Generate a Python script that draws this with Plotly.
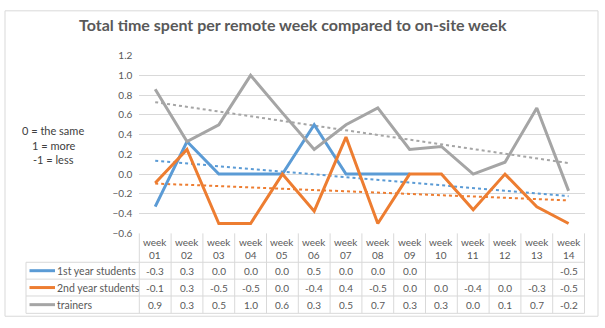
import numpy as np
import plotly.graph_objects as go
from decimal import Decimal, ROUND_HALF_UP

weeks = ["01", "02", "03", "04", "05", "06", "07", "08", "09", "10", "11", "12", "13", "14"]
first_year = [-0.33, 0.33, 0.0, 0.0, 0.0, 0.5, 0.0, 0.0, 0.0, None, None, None, None, -0.5]
second_year = [-0.09, 0.25, -0.5, -0.5, 0.0, -0.375, 0.375, -0.5, 0.0, 0.0, -0.36, 0.0, -0.33, -0.5]
trainers = [0.86, 0.33, 0.5, 1.0, 0.62, 0.25, 0.5, 0.67, 0.25, 0.28, 0.0, 0.12, 0.67, -0.17]

names = ["1st year students", "2nd year students", "trainers"]
series = [first_year, second_year, trainers]
colors = ["#5B9BD5", "#ED7D31", "#A5A5A5"]

W, H = 605, 328
PL, PR, PT, PB = 139.3, 584.5, 51.5, 236.0
FONT = "Lato"
TXT = "#595959"
GRID = "#D9D9D9"

def px(x):
    return x / W

def py(y):
    return 1 - y / H

xs = list(range(1, len(weeks) + 1))
fig = go.Figure()

# trend lines
for s, c in zip(series, colors):
    pts = [(x, v) for x, v in zip(xs, s) if v is not None]
    a, b = np.polyfit([p[0] for p in pts], [p[1] for p in pts], 1)
    fig.add_trace(go.Scatter(x=[xs[0], xs[-1]], y=[a * xs[0] + b, a * xs[-1] + b], mode="lines",
                             line=dict(color=c, width=2, dash="dot"), hoverinfo="skip", showlegend=False))
for s, c, n in zip(series, colors, names):
    fig.add_trace(go.Scatter(x=xs, y=s, mode="lines", name=n, line=dict(color=c, width=3),
                             connectgaps=False, showlegend=False))

shapes = []
annotations = []

# outer border
shapes.append(dict(type="rect", xref="paper", yref="paper", x0=px(5), x1=px(598), y0=py(322), y1=py(5),
                   line=dict(color="#D9D9D9", width=1)))

# table geometry
row_lines = [266, 283.5, 301, 319]
n = len(weeks)
colw = (PR - PL) / n
for i in range(n + 1):
    xx = PL + i * colw
    shapes.append(dict(type="line", xref="paper", yref="paper", x0=px(xx), x1=px(xx), y0=py(PB), y1=py(319),
                       line=dict(color=GRID, width=1)))
shapes.append(dict(type="line", xref="paper", yref="paper", x0=px(26), x1=px(26), y0=py(266), y1=py(319),
                   line=dict(color=GRID, width=1)))
for ry in row_lines:
    shapes.append(dict(type="line", xref="paper", yref="paper", x0=px(26), x1=px(PR), y0=py(ry), y1=py(ry),
                       line=dict(color=GRID, width=1)))

def fmt(v):
    if v is None:
        return ""
    return str(Decimal(str(v)).quantize(Decimal("0.1"), rounding=ROUND_HALF_UP))

for i, w in enumerate(weeks):
    cx = PL + (i + 0.5) * colw
    annotations.append(dict(xref="paper", yref="paper", x=px(cx), y=py(251.5), text="week<br>" + w,
                            showarrow=False, font=dict(family=FONT, size=10, color=TXT),
                            xanchor="center", yanchor="middle"))
for r, (s, c, nm) in enumerate(zip(series, colors, names)):
    cy = (row_lines[r] + row_lines[r + 1]) / 2
    shapes.append(dict(type="line", xref="paper", yref="paper", x0=px(29.5), x1=px(55), y0=py(cy), y1=py(cy),
                       line=dict(color=c, width=3)))
    annotations.append(dict(xref="paper", yref="paper", x=px(55), y=py(cy), text=nm, showarrow=False,
                            font=dict(family=FONT, size=10.5, color=TXT), xanchor="left", yanchor="middle"))
    for i, v in enumerate(s):
        cx = PL + (i + 0.5) * colw
        annotations.append(dict(xref="paper", yref="paper", x=px(cx), y=py(cy), text=fmt(v), showarrow=False,
                                font=dict(family=FONT, size=10, color=TXT), xanchor="center", yanchor="middle"))

# left note
for t, yy in [("0 = the same", 129.5), ("1 = more", 144.5), ("-1 = less", 159.5)]:
    annotations.append(dict(xref="paper", yref="paper", x=px(53), y=py(yy), text=t, showarrow=False,
                            font=dict(family=FONT, size=11, color="#404040"), xanchor="center", yanchor="middle"))

# title
annotations.append(dict(xref="paper", yref="paper", x=px(292.5), y=py(19.5), text="<b>Total time spent per remote week compared to on-site week</b>",
                        showarrow=False, font=dict(family=FONT, size=16, color=TXT), xanchor="center", yanchor="middle"))

fig.update_layout(
    width=W, height=H, margin=dict(l=0, r=0, t=0, b=0),
    paper_bgcolor="white", plot_bgcolor="white",
    shapes=shapes, annotations=annotations,
    xaxis=dict(domain=[px(PL), px(PR)], range=[0.5, n + 0.5], showticklabels=False, showgrid=False,
               zeroline=False, showline=False, ticks=""),
    yaxis=dict(domain=[py(PB), py(PT)], range=[-0.6, 1.2], dtick=0.2, tickformat=".1f",
               showgrid=True, gridcolor=GRID, gridwidth=1, zeroline=False, showline=False,
               tickfont=dict(family=FONT, size=10, color=TXT), ticks="", ticklabelstandoff=6),
)
fig.write_html("out.html")
